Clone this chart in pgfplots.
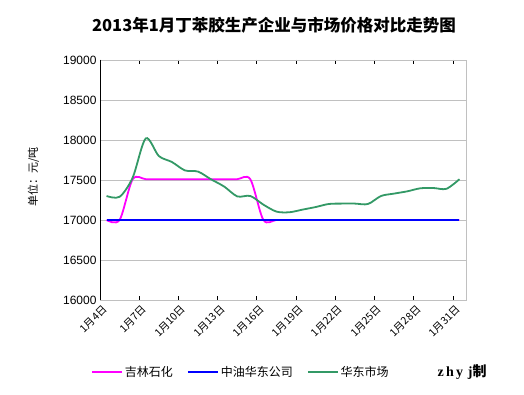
\documentclass[border=0pt]{standalone}
\usepackage{pgfplots}
\pgfplotsset{compat=1.18}
\usepackage{fontspec}
\setmainfont{Liberation Sans}
\newfontfamily\cjk{Noto Sans CJK SC}
\newfontfamily\serifb{Liberation Serif}
\definecolor{cmag}{RGB}{255,0,255}
\definecolor{cblue}{RGB}{0,0,255}
\definecolor{cgreen}{RGB}{51,153,102}
\definecolor{cgrid}{RGB}{192,192,192}

\pgfplotstableread{
day val
4 17000
5 17000
6 17510
7 17510
8 17510
9 17510
10 17510
11 17510
12 17510
13 17510
14 17510
15 17510
16 17000
17 17000
18 17000
19 17000
20 17000
21 17000
22 17000
23 17000
24 17000
25 17000
26 17000
27 17000
28 17000
29 17000
30 17000
31 17000
}\jilin

\pgfplotstableread{
day val
4 17000
5 17000
6 17000
7 17000
8 17000
9 17000
10 17000
11 17000
12 17000
13 17000
14 17000
15 17000
16 17000
17 17000
18 17000
19 17000
20 17000
21 17000
22 17000
23 17000
24 17000
25 17000
26 17000
27 17000
28 17000
29 17000
30 17000
31 17000
}\zhongyou

\pgfplotstableread{
day val
4 17300
5 17290
6 17530
7 18020
8 17800
9 17725
10 17620
11 17605
12 17508
13 17418
14 17295
15 17300
16 17192
17 17105
18 17097
19 17130
20 17162
21 17200
22 17205
23 17205
24 17200
25 17300
26 17330
27 17358
28 17396
29 17400
30 17390
31 17510
}\huadong

\begin{document}
\begin{tikzpicture}
\useasboundingbox (0pt,0pt) rectangle (524pt,395pt);
\node[font=\cjk\bfseries\fontsize{16.5}{18}\selectfont] at (274pt,370pt) {2013年1月丁苯胶生产企业与市场价格对比走势图};
\node[anchor=center] at (462pt,23pt) {{\serifb\bfseries\fontsize{14}{16}\selectfont z\,h\,y\,\,j}{\cjk\bfseries\fontsize{14}{16}\selectfont 制}};
\begin{axis}[
  at={(100pt,95pt)}, anchor=south west,
  scale only axis, width=366pt, height=240pt,
  xmin=3.5, xmax=31.5, ymin=16000, ymax=19000,
  ytick={16000,16500,...,19000},
  xtick={3.5,6.5,...,30.5},
  xticklabels={1月4日,1月7日,1月10日,1月13日,1月16日,1月19日,1月22日,1月25日,1月28日,1月31日},
  xticklabel style={rotate=45, anchor=east, font=\cjk\fontsize{10.5}{12}\selectfont, yshift=-9pt, xshift=2pt},
  yticklabel style={font=\fontsize{12}{14}\selectfont},
  scaled ticks=false,
  /pgf/number format/.cd, set thousands separator={}, assume math mode=true, /pgfplots/.cd,
  ymajorgrids, grid style={cgrid, line width=0.8pt},
  axis line style={cgrid, line width=0.8pt},
  tick align=inside,
  major tick length=4pt,
  xtick style={black, line width=0.8pt},
  ytick style={draw=none},
  ylabel={\cjk 单位：元/吨},
  ylabel style={font=\fontsize{11}{13}\selectfont, at={(axis description cs:-0.182,0.5125)}, anchor=center},
  legend style={at={(axis description cs:0.385,-0.30)}, anchor=center, draw=none, fill=none,
     legend columns=3, font=\cjk\fontsize{12}{14}\selectfont,
     /tikz/every even column/.append style={column sep=12pt}},
  legend image code/.code={\draw[#1] (0pt,0pt) -- (30pt,0pt);},
]
\addplot[cmag, line width=1.8pt, smooth] table[x=day,y=val] {\jilin};
\addlegendentry{吉林石化}
\addplot[cblue, line width=2pt, smooth] table[x=day,y=val] {\zhongyou};
\addlegendentry{中油华东公司}
\addplot[cgreen, line width=1.8pt, smooth] table[x=day,y=val] {\huadong};
\addlegendentry{华东市场}
\draw[black, line width=0.8pt] (rel axis cs:0,1) -- (rel axis cs:0,0) -- (rel axis cs:1,0);
\end{axis}
\end{tikzpicture}
\end{document}
